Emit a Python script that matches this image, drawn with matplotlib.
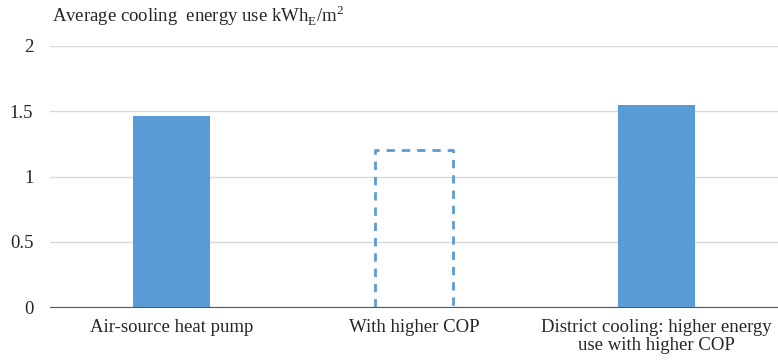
import matplotlib.pyplot as plt

categories = ['Air-source heat pump', 'With higher COP',
              'District cooling: higher energy\nuse with higher COP']
values = [1.46, 1.2, 1.55]
dashed = [False, True, False]

plt.rcParams['font.family'] = ['Liberation Serif', 'DejaVu Serif']

fig = plt.figure(figsize=(7.78, 3.64), dpi=100)
ax = fig.add_axes([50 / 778, 1 - 307 / 364, 1 - 50 / 778, (307 - 46) / 364])

blue = '#5b9bd5'
w = 0.32
for xi, (v, d) in enumerate(zip(values, dashed)):
    if d:
        # open-bottom dashed outline for the projected case
        ax.plot([xi - w / 2, xi - w / 2, xi + w / 2, xi + w / 2], [0, v, v, 0],
                color=blue, linewidth=2, linestyle=(0, (3, 2.5)), zorder=3,
                solid_joinstyle='miter')
    else:
        ax.bar(xi, v, width=w, color=blue, zorder=3)

ax.set_xlim(-0.5, 2.5)
ax.set_ylim(0, 2)
ax.set_yticks([0, 0.5, 1, 1.5, 2])
ax.set_yticklabels(['0', '0.5', '1', '1.5', '2'])
ax.set_xticks(range(len(categories)))
ax.set_xticklabels(categories, linespacing=1.0)
ax.yaxis.grid(True, color='#d9d9d9', linewidth=1)
ax.set_axisbelow(True)
for s in ['top', 'right', 'left']:
    ax.spines[s].set_visible(False)
ax.spines['bottom'].set_color('#595959')
ax.spines['bottom'].set_zorder(4)
ax.tick_params(length=0, labelsize=13.5, colors='#262626')
ax.tick_params(axis='y', pad=12)
ax.tick_params(axis='x', pad=9)

fig.text(52 / 778, 1 - 16 / 364, 'Average cooling  energy use kWh$_\\mathregular{E}$/m$^\\mathregular{2}$',
         fontsize=13.5, color='#262626', va='center', ha='left')

fig.savefig('out.png', dpi=100)
